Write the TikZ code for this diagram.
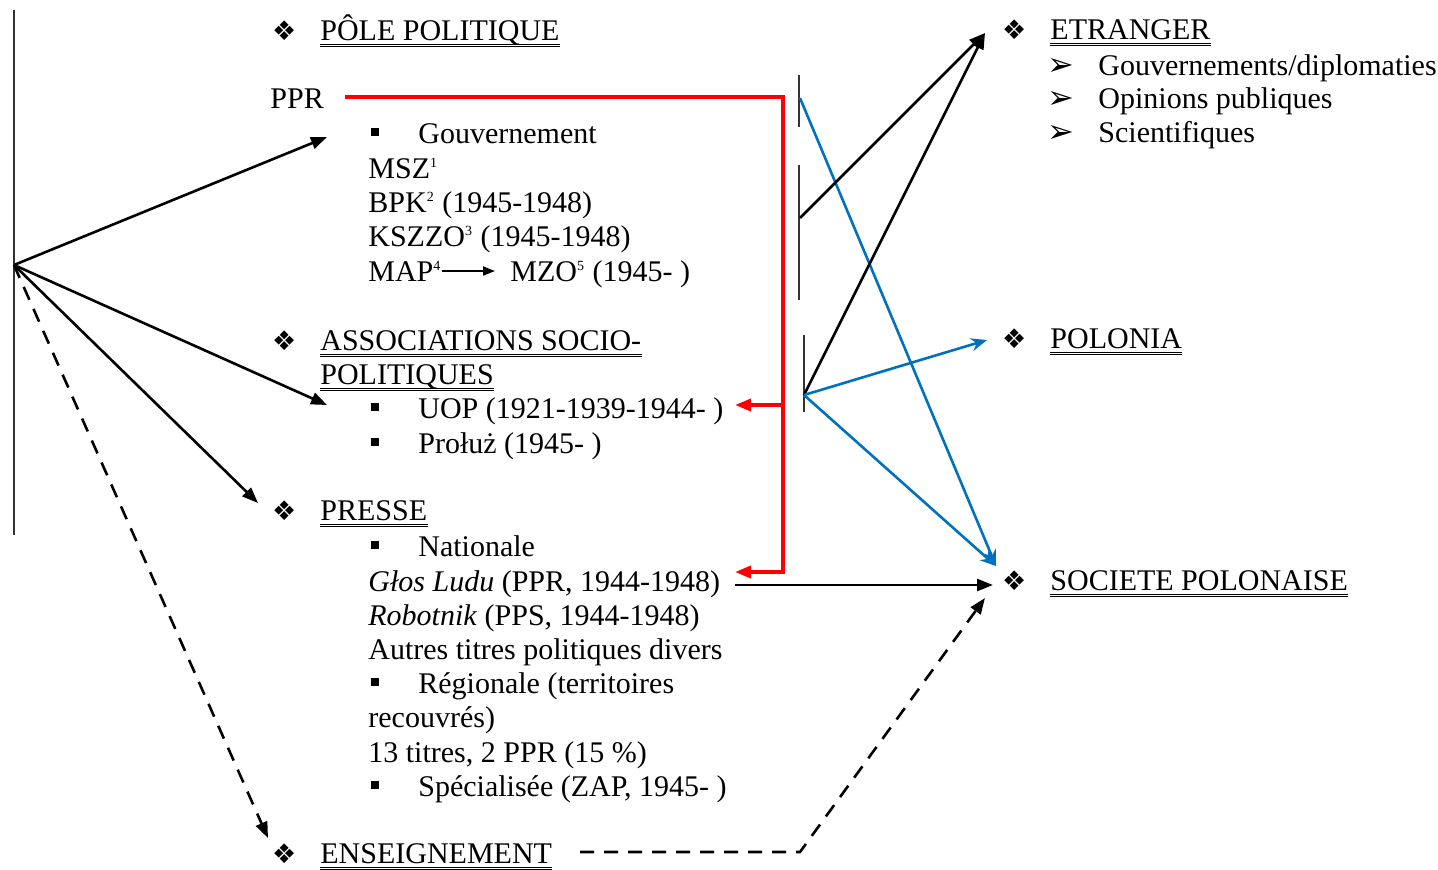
\documentclass[tikz,border=0pt]{standalone}
\usepackage{fontspec}
\setmainfont{Liberation Serif}
\newfontfamily\dingfont{DejaVu Sans}
\usetikzlibrary{arrows.meta}
\definecolor{rouge}{RGB}{255,0,0}
\definecolor{bleu}{RGB}{0,112,192}
\newcommand{\losange}{\llap{{\dingfont\fontsize{13.5}{13.5}\selectfont ❖}\hspace{12pt}}}
\newcommand{\fleche}{\llap{{\dingfont\fontsize{16}{16}\selectfont ➢}\hspace{12pt}}}
\newcommand{\carre}{\llap{\raisebox{3.5pt}{\rule{4pt}{4pt}}\hspace{19.5pt}}}
\newcommand{\appel}[1]{\textsuperscript{\fontsize{7}{7}\selectfont #1}}
\tikzset{
  txt/.style={anchor=base west,inner sep=0pt,font=\fontsize{15}{17}\selectfont},
  pointe/.style={-{Triangle[length=8pt,width=6pt]}},
  noir/.style={pointe,line width=1.3pt},
  rouge/.style={pointe,draw=rouge,line width=1.8pt},
  bleu/.style={draw=bleu,line width=1.3pt,-{Stealth[length=8pt,width=6.5pt]}},
  tiret/.style={noir,dash pattern=on 7pt off 5pt},
  barre/.style={line width=0.9pt,black!80},
  souligne/.style={double,double distance=0.7pt,line width=0.5pt}
}
\begin{document}
\begin{tikzpicture}[x=0.5pt,y=-0.5pt]
\useasboundingbox (0,0) rectangle (1438,869);
\node[txt] (pole) at (320,40) {\losange PÔLE POLITIQUE};
\node[txt] (ppr) at (270,108) {PPR};
\node[txt] (gouv) at (418,143) {\carre Gouvernement};
\node[txt] (msz) at (368,178) {MSZ\appel{1}};
\node[txt] (bpk) at (368,212) {BPK\appel{2} (1945-1948)};
\node[txt] (kszzo) at (368,246) {KSZZO\appel{3} (1945-1948)};
\node[txt] (map) at (368,281) {MAP\appel{4}};
\node[txt] (mzo) at (510,281) {MZO\appel{5} (1945- )};
\node[txt] (assoc) at (320,350) {\losange ASSOCIATIONS SOCIO-};
\node[txt] (politiques) at (320,384) {POLITIQUES};
\node[txt] (uop) at (418,418) {\carre UOP (1921-1939-1944- )};
\node[txt] (proluz) at (418,453) {\carre Prołuż (1945- )};
\node[txt] (presse) at (320,520) {\losange PRESSE};
\node[txt] (nationale) at (418,556) {\carre Nationale};
\node[txt] (glos) at (368,591) {\textit{Głos Ludu} (PPR, 1944-1948)};
\node[txt] (robotnik) at (368,625) {\textit{Robotnik} (PPS, 1944-1948)};
\node[txt] (autres) at (368,659) {Autres titres politiques divers};
\node[txt] (regionale) at (418,693) {\carre Régionale (territoires};
\node[txt] (recouvres) at (368,727) {recouvrés)};
\node[txt] (titres) at (368,762) {13 titres, 2 PPR (15 \%)};
\node[txt] (specialisee) at (418,796) {\carre Spécialisée (ZAP, 1945- )};
\node[txt] (enseignement) at (320,863) {\losange ENSEIGNEMENT};
\node[txt] (etranger) at (1050,39) {\losange ETRANGER};
\node[txt] (gouvs) at (1098,75) {\fleche Gouvernements/diplomaties};
\node[txt] (opinions) at (1098,108) {\fleche Opinions publiques};
\node[txt] (scientifiques) at (1098,142) {\fleche Scientifiques};
\node[txt] (polonia) at (1050,348) {\losange POLONIA};
\node[txt] (societe) at (1050,590) {\losange SOCIETE POLONAISE};
\foreach \n in {pole,assoc,politiques,presse,enseignement,etranger,polonia,societe}
  \draw[souligne] ([yshift=-2.6pt]\n.base west) -- ([yshift=-2.6pt]\n.base east);
\draw[line width=0.9pt,-{Triangle[length=6pt,width=4.5pt]}] ([yshift=5pt]map.base east) -- ([xshift=-7.5pt,yshift=5pt]mzo.base west);
\coordinate (hub) at (14,265);
\coordinate (a-ppr) at (327,137);
\coordinate (a-assoc) at (327,405);
\coordinate (a-presse) at (258,503);
\coordinate (a-ens) at (268,838);
\draw[barre] (14,10) -- (14,535);
\draw[noir] (hub) -- (a-ppr);
\draw[noir] (hub) -- (a-assoc);
\draw[noir] (hub) -- (a-presse);
\draw[tiret] (hub) -- (a-ens);
\coordinate (r-ppr) at (345,97);
\coordinate (r-haut) at (783,97);
\coordinate (r-uop) at (783,405);
\coordinate (r-bas) at (783,572);
\draw[rouge] (r-ppr) -- (r-haut) -- (r-bas) -- (735,572);
\draw[rouge] (r-uop) -- (735,405);
\draw[barre] (799,75) -- (799,127);
\draw[barre] (799,165) -- (799,300);
\draw[barre] (804,335) -- (804,412);
\coordinate (b1) at (800,98);
\coordinate (b2) at (800,218);
\coordinate (b3) at (804,395);
\coordinate (e-in) at (985,33);
\coordinate (p-in) at (987,340);
\coordinate (s-in) at (996,566);
\coordinate (s-glos) at (993,585);
\coordinate (s-ens) at (985,598);
\draw[bleu] (b1) -- (s-in);
\draw[noir] (b2) -- (e-in);
\draw[noir] (b3) -- (e-in);
\draw[bleu] (b3) -- (p-in);
\draw[bleu] (b3) -- (s-in);
\draw[noir] (735,585) -- (s-glos);
\draw[tiret] (580,852) -- (800,852) -- (s-ens);
\end{tikzpicture}
\end{document}
